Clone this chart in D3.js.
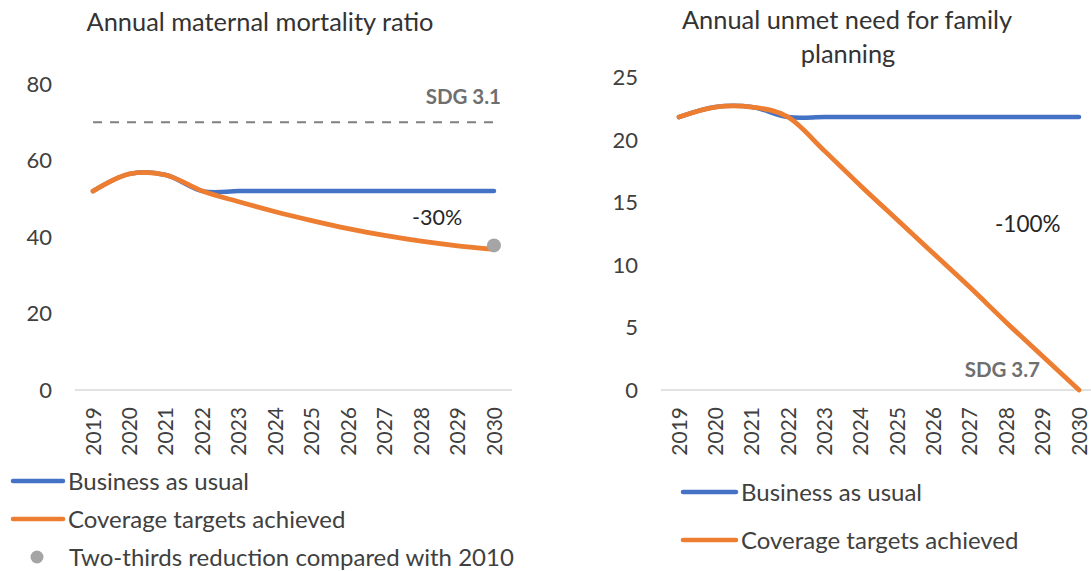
<!DOCTYPE html>
<html><head><meta charset="utf-8">
<script src="https://cdn.jsdelivr.net/npm/d3@7"></script>
<style>
html,body{margin:0;padding:0;background:#fff;}
svg{display:block;font-family:Lato,"Open Sans",sans-serif;}
</style></head>
<body>
<svg id="c" width="1091" height="571"></svg>
<script>
const years = ["2019","2020","2021","2022","2023","2024","2025","2026","2027","2028","2029","2030"];

// Left chart: annual maternal mortality ratio
const mmrTitle = "Annual maternal mortality ratio";
const mmrBAU = [52, 56.5, 56.2, 52, 52, 52, 52, 52, 52, 52, 52, 52];
const mmrTarget = [52, 56.5, 56.2, 52, 49.2, 46.6, 44.3, 42.2, 40.4, 38.9, 37.7, 36.8];
const mmrSDG = 70;
const mmrTwoThirds = {year: "2030", value: 37.8};
const mmrTicks = [0, 20, 40, 60, 80];
const mmrChange = "-30%";
const mmrSDGLabel = "SDG 3.1";

// Right chart: annual unmet need for family planning
const fpTitle = ["Annual unmet need for family", "planning"];
const fpBAU = [21.8, 22.6, 22.6, 21.8, 21.8, 21.8, 21.8, 21.8, 21.8, 21.8, 21.8, 21.8];
const fpTarget = [21.8, 22.6, 22.6, 21.8, 19.1, 16.3, 13.6, 10.9, 8.2, 5.4, 2.7, 0];
const fpTicks = [0, 5, 10, 15, 20, 25];
const fpChange = "-100%";
const fpSDGLabel = "SDG 3.7";

const legendLabels = ["Business as usual", "Coverage targets achieved", "Two-thirds reduction compared with 2010"];

const BLUE = "#4472C4", ORANGE = "#ED7D31", GRAY = "#A5A5A5";
const TXT = "#404040";

const svg = d3.select("#c");

function panel(opt) {
  const g = svg.append("g");
  const x = d3.scaleBand().domain(years).range(opt.xr).padding(0);
  const cx = d => x(d) + x.bandwidth() / 2;
  const y = d3.scaleLinear().domain(opt.yd).range(opt.yr);

  // baseline
  g.append("line").attr("x1", opt.xr[0]).attr("x2", opt.xr[1])
    .attr("y1", y(0)).attr("y2", y(0))
    .attr("stroke", "#d9d9d9").attr("stroke-width", 1.5);

  // y tick labels
  g.selectAll("text.yt").data(opt.ticks).join("text")
    .attr("class", "yt")
    .attr("x", opt.yLabelX).attr("y", d => y(d)).attr("dy", "0.36em")
    .attr("text-anchor", "end").attr("fill", TXT)
    .style("font-size", "22px").text(d => d);

  // x tick labels (rotated)
  g.selectAll("text.xt").data(years).join("text")
    .attr("class", "xt")
    .attr("transform", d => `translate(${cx(d)},${y(0) + 17}) rotate(-90)`)
    .attr("dy", "0.36em").attr("text-anchor", "end").attr("fill", TXT)
    .style("font-size", "21px").text(d => d);

  const line = d3.line().x((d, i) => cx(years[i])).y(d => y(d)).curve(d3.curveCatmullRom.alpha(0));
  g.append("path").attr("d", line(opt.bau)).attr("fill", "none")
    .attr("stroke", BLUE).attr("stroke-width", 4.5).attr("stroke-linecap", "round");
  g.append("path").attr("d", line(opt.target)).attr("fill", "none")
    .attr("stroke", ORANGE).attr("stroke-width", 4.8).attr("stroke-linecap", "round");

  return {g, x, cx, y};
}

// ---------- Left panel ----------
const L = panel({xr: [74.8, 512.2], yd: [0, 80], yr: [390, 84], ticks: mmrTicks, yLabelX: 52,
  bau: mmrBAU, target: mmrTarget});

L.g.insert("line", "path")
  .attr("x1", L.cx(years[0])).attr("x2", L.cx(years[years.length - 1]))
  .attr("y1", L.y(mmrSDG)).attr("y2", L.y(mmrSDG))
  .attr("stroke", "#808080").attr("stroke-width", 2.2).attr("stroke-dasharray", "9,8");

L.g.append("circle").attr("cx", L.cx(mmrTwoThirds.year)).attr("cy", L.y(mmrTwoThirds.value))
  .attr("r", 7).attr("fill", GRAY);

L.g.append("text").attr("x", 501).attr("y", 104).attr("text-anchor", "end")
  .attr("fill", "#6f6f6f").style("font-size", "20.5px").style("font-weight", "bold").text(mmrSDGLabel);
L.g.append("text").attr("x", 412).attr("y", 225)
  .attr("fill", "#262626").style("font-size", "21.5px").text(mmrChange);

svg.append("text").attr("x", 260).attr("y", 31).attr("text-anchor", "middle")
  .attr("fill", "#333").style("font-size", "25.4px").text(mmrTitle);

// ---------- Right panel ----------
const R = panel({xr: [660.8, 1097.2], yd: [0, 25], yr: [390, 77], ticks: fpTicks, yLabelX: 638,
  bau: fpBAU, target: fpTarget});

R.g.append("text").attr("x", 1040).attr("y", 377).attr("text-anchor", "end")
  .attr("fill", "#6f6f6f").style("font-size", "20.5px").style("font-weight", "bold").text(fpSDGLabel);
R.g.append("text").attr("x", 995).attr("y", 232)
  .attr("fill", "#262626").style("font-size", "22.5px").text(fpChange);

svg.append("text").attr("x", 847).attr("y", 29).attr("text-anchor", "middle")
  .attr("fill", "#333").style("font-size", "25.4px").text(fpTitle[0]);
svg.append("text").attr("x", 848).attr("y", 63).attr("text-anchor", "middle")
  .attr("fill", "#333").style("font-size", "25.4px").text(fpTitle[1]);

// ---------- Legends ----------
function legendLine(x1, x2, yy, color, label) {
  svg.append("line").attr("x1", x1).attr("x2", x2).attr("y1", yy).attr("y2", yy)
    .attr("stroke", color).attr("stroke-width", 4.5).attr("stroke-linecap", "round");
  svg.append("text").attr("x", x2 + 5).attr("y", yy).attr("dy", "0.36em")
    .attr("fill", TXT).style("font-size", "24px").text(label);
}
legendLine(13, 63, 481, BLUE, legendLabels[0]);
legendLine(13, 63, 519, ORANGE, legendLabels[1]);
svg.append("circle").attr("cx", 37).attr("cy", 557).attr("r", 6.5).attr("fill", GRAY);
svg.append("text").attr("x", 69).attr("y", 557).attr("dy", "0.36em")
  .attr("fill", TXT).style("font-size", "24px").text(legendLabels[2]);

legendLine(683, 736, 492, BLUE, legendLabels[0]);
legendLine(683, 736, 540, ORANGE, legendLabels[1]);
</script>
</body></html>
